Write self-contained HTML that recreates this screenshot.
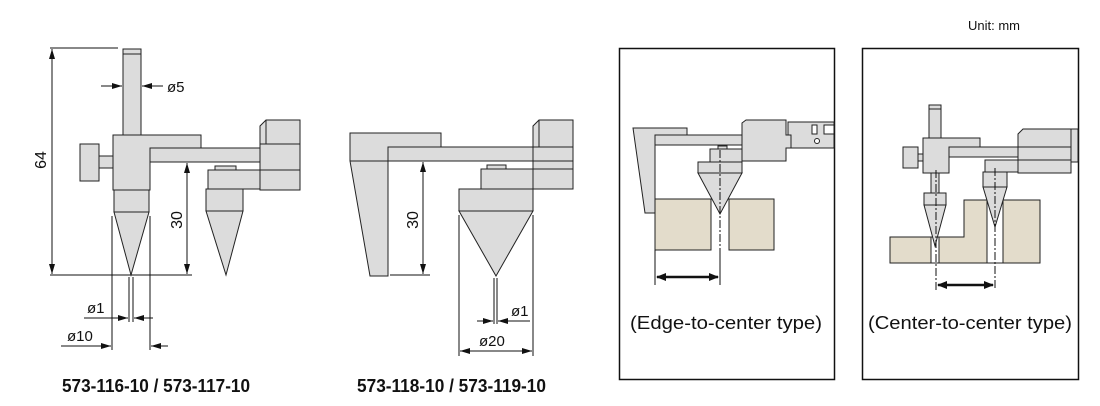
<!DOCTYPE html>
<html><head><meta charset="utf-8"><style>
html,body{margin:0;padding:0;background:#fff;}
svg{display:block;}
text{font-family:"Liberation Sans",sans-serif;fill:#111;}
</style></head><body>
<svg width="1100" height="406" viewBox="0 0 1100 406" xmlns="http://www.w3.org/2000/svg">
<defs>
<marker id="a" markerWidth="10" markerHeight="6" refX="10" refY="3" orient="auto-start-reverse" markerUnits="userSpaceOnUse"><path d="M0,0 L10,3 L0,6z" fill="#111"/></marker>
<marker id="b" markerWidth="10" markerHeight="8" refX="9" refY="4" orient="auto-start-reverse" markerUnits="userSpaceOnUse"><path d="M0,0 L10,4 L0,8z" fill="#111"/></marker>
</defs>
<g stroke="#222" stroke-width="1" fill="#dcdcdc">
<!-- Figure 1 -->
<rect x="123" y="49" width="18" height="86"/>
<line x1="123" y1="54" x2="141" y2="54"/>
<rect x="99" y="156" width="14" height="12"/>
<rect x="80" y="144" width="19" height="37"/>
<path d="M113,135 H201 V148 H150 V190 H113Z"/>
<rect x="150" y="148" width="110" height="14"/>
<rect x="114" y="190" width="35" height="22"/>
<path d="M114,212 H149 L131,275Z"/>
<path d="M260,126 L266,120 H300 V190 H260Z"/>
<line x1="266" y1="120" x2="266" y2="144"/>
<line x1="260" y1="144" x2="300" y2="144"/>
<line x1="260" y1="170" x2="300" y2="170"/>
<rect x="215" y="166" width="21" height="4"/>
<rect x="208" y="170" width="52" height="19"/>
<rect x="206" y="189" width="37" height="22"/>
<path d="M206,211 H243 L226,275Z"/>
<!-- Figure 2 -->
<path d="M350,133 H441 V147 H388 V276 H370 L350,161Z"/>
<line x1="350" y1="161" x2="388" y2="161"/>
<rect x="388" y="147" width="145" height="14"/>
<path d="M533,126 L539,120 H573 V189 H533Z"/>
<line x1="539" y1="120" x2="539" y2="147"/>
<line x1="533" y1="147" x2="573" y2="147"/>
<line x1="533" y1="161" x2="573" y2="161"/>
<line x1="533" y1="169" x2="573" y2="169"/>
<rect x="487" y="165" width="19" height="4"/>
<rect x="481" y="169" width="52" height="20"/>
<rect x="459" y="189" width="74" height="22"/>
<path d="M459,211 H533 L496,276Z"/>
</g>
<g stroke="#111" stroke-width="1" fill="none">
<!-- fig1 dims -->
<line x1="50" y1="48" x2="118" y2="48"/>
<line x1="50" y1="275" x2="192" y2="275"/>
<line x1="52" y1="49" x2="52" y2="274" marker-start="url(#a)" marker-end="url(#a)"/>
<line x1="101" y1="86" x2="122" y2="86" marker-end="url(#a)"/>
<line x1="163" y1="86" x2="142" y2="86" marker-end="url(#a)"/>
<line x1="187" y1="163" x2="187" y2="274" marker-start="url(#a)" marker-end="url(#a)"/>
<line x1="112" y1="216" x2="112" y2="350"/>
<line x1="150" y1="216" x2="150" y2="350"/>
<line x1="129" y1="277" x2="129" y2="322"/>
<line x1="133" y1="277" x2="133" y2="322"/>
<line x1="84" y1="318" x2="128" y2="318" marker-end="url(#a)"/>
<line x1="153" y1="318" x2="134" y2="318" marker-end="url(#a)"/>
<line x1="61" y1="346" x2="111" y2="346" marker-end="url(#a)"/>
<line x1="168" y1="346" x2="151" y2="346" marker-end="url(#a)"/>
<!-- fig2 dims -->
<line x1="390" y1="275" x2="430" y2="275"/>
<line x1="423" y1="162" x2="423" y2="274" marker-start="url(#a)" marker-end="url(#a)"/>
<line x1="459" y1="215" x2="459" y2="356"/>
<line x1="533" y1="215" x2="533" y2="356"/>
<line x1="494" y1="278" x2="494" y2="324"/>
<line x1="497" y1="278" x2="497" y2="324"/>
<line x1="477" y1="321" x2="493" y2="321" marker-end="url(#a)"/>
<line x1="530" y1="321" x2="498" y2="321" marker-end="url(#a)"/>
<line x1="460" y1="351" x2="532" y2="351" marker-start="url(#a)" marker-end="url(#a)"/>
<!-- panels -->
<rect x="619.5" y="48.5" width="215" height="331" stroke-width="1.5"/>
<rect x="862.5" y="48.5" width="216" height="331" stroke-width="1.5"/>
</g>
<!-- panel 1 -->
<g stroke="#222" stroke-width="1" fill="#dcdcdc">
<rect x="788" y="122" width="46" height="26"/>
<rect x="812" y="125" width="5" height="9" fill="#fff"/>
<rect x="824" y="125" width="10" height="9" fill="#fff"/>
<circle cx="817" cy="141" r="2.5" fill="#fff"/>
<path d="M633,128 H687 V135 H655 V213 H645Z"/>
<rect x="655" y="135" width="136" height="10"/>
<path d="M742,123 L746,120 H786 V135 H791 V148 H786 V161 H742Z"/>
<rect x="718" y="146" width="9" height="3"/>
<rect x="710" y="149" width="32" height="13"/>
<rect x="698" y="162" width="44" height="11"/>
</g>
<g stroke="#222" stroke-width="1" fill="#e3dccb">
<rect x="655" y="199" width="56" height="51"/>
<rect x="729" y="199" width="45" height="51"/>
</g>
<path d="M698,173 H742 L720,214Z" fill="#dcdcdc" stroke="#222"/>
<g stroke="#111" fill="none">
<line x1="720" y1="150" x2="720" y2="256" stroke-dasharray="8,2,2,2"/>
<line x1="655" y1="250" x2="655" y2="285"/>
<line x1="720" y1="256" x2="720" y2="285"/>
<line x1="657" y1="277" x2="718" y2="277" stroke-width="2.5" marker-start="url(#b)" marker-end="url(#b)"/>
</g>
<!-- panel 2 -->
<g stroke="#222" stroke-width="1" fill="#e3dccb">
<path d="M890,237 H964 V200 H1040 V263 H890Z"/>
</g>
<rect x="931" y="237" width="8" height="26" fill="#fff" stroke="#222"/>
<rect x="987" y="200" width="16" height="63" fill="#fff" stroke="#222"/>
<g stroke="#222" stroke-width="1" fill="#dcdcdc">
<rect x="929" y="105" width="12" height="33"/>
<line x1="929" y1="109" x2="941" y2="109"/>
<rect x="918" y="154" width="5" height="7"/>
<rect x="903" y="147" width="15" height="21"/>
<path d="M923,138 H980 V147 H949 V173 H923Z"/>
<rect x="949" y="147" width="69" height="10"/>
<path d="M1018,134 L1023,129 H1071 V173 H1018Z"/>
<line x1="1018" y1="147" x2="1071" y2="147"/>
<line x1="1018" y1="160" x2="1071" y2="160"/>
<rect x="1071" y="129" width="7" height="33"/>
<rect x="985" y="160" width="33" height="12"/>
<rect x="983" y="172" width="24" height="15"/>
<path d="M983,187 H1007 L995,227Z"/>
<rect x="931" y="173" width="8" height="20"/>
<rect x="924" y="193" width="22" height="12"/>
<path d="M924,205 H946 L935,246Z"/>
</g>
<g stroke="#111" fill="none">
<line x1="936" y1="170" x2="936" y2="290" stroke-dasharray="8,2,2,2"/>
<line x1="995" y1="168" x2="995" y2="290" stroke-dasharray="8,2,2,2"/>
<line x1="938" y1="285" x2="993" y2="285" stroke-width="2.5" marker-start="url(#b)" marker-end="url(#b)"/>
</g>
<!-- text -->
<text x="167" y="92" font-size="15">ø5</text>
<text x="87" y="313" font-size="15">ø1</text>
<text x="67" y="341" font-size="15">ø10</text>
<text x="511" y="316" font-size="15">ø1</text>
<text x="479" y="346" font-size="15">ø20</text>
<text transform="translate(46,160) rotate(-90)" font-size="16" text-anchor="middle">64</text>
<text transform="translate(182,220) rotate(-90)" font-size="16" text-anchor="middle">30</text>
<text transform="translate(418,220) rotate(-90)" font-size="16" text-anchor="middle">30</text>
<text x="62" y="392" font-size="18" font-weight="bold" textLength="188" lengthAdjust="spacingAndGlyphs">573-116-10 / 573-117-10</text>
<text x="357" y="392" font-size="18" font-weight="bold" textLength="189" lengthAdjust="spacingAndGlyphs">573-118-10 / 573-119-10</text>
<text x="968" y="30" font-size="13">Unit: mm</text>
<text x="726" y="329" font-size="18" text-anchor="middle" textLength="192" lengthAdjust="spacingAndGlyphs">(Edge-to-center type)</text>
<text x="970" y="329" font-size="18" text-anchor="middle" textLength="204" lengthAdjust="spacingAndGlyphs">(Center-to-center type)</text>
</svg>
</body></html>
